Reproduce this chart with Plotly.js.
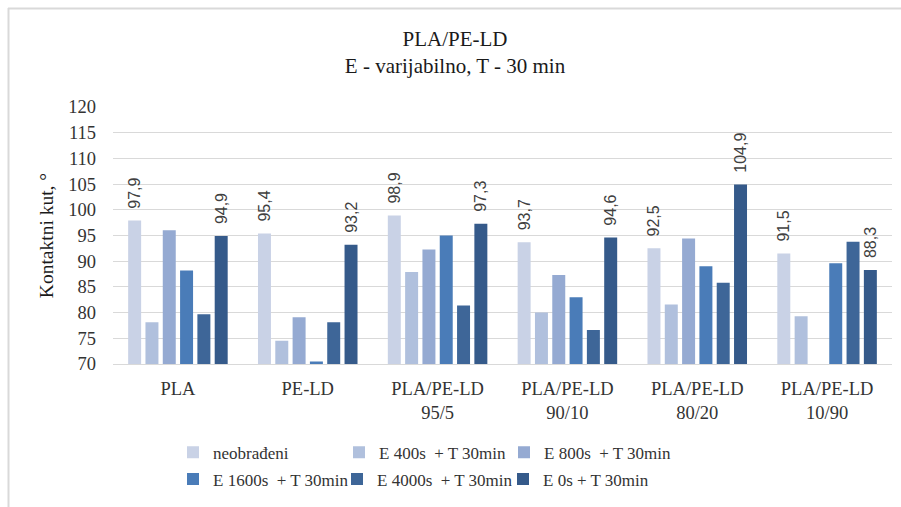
<!DOCTYPE html>
<html>
<head>
<meta charset="utf-8">
<script src="https://cdn.plot.ly/plotly-3.0.1.min.js"></script>
<style>html,body{margin:0;padding:0;background:#fff;}#chart{width:901px;height:507px;}</style>
</head>
<body>
<div id="chart"></div>
<script>
const categories = ["PLA", "PE-LD", "PLA/PE-LD<br>95/5", "PLA/PE-LD<br>90/10", "PLA/PE-LD<br>80/20", "PLA/PE-LD<br>10/90"];
const seriesNames = ["neobrađeni", "E 400s\u00a0 + T 30min", "E 800s\u00a0 + T 30min", "E 1600s\u00a0 + T 30min", "E 4000s\u00a0 + T 30min", "E 0s + T 30min"];
const neobradeni = [97.9, 95.4, 98.9, 93.7, 92.5, 91.5];
const e400 = [78.1, 74.5, 87.9, 80.0, 81.6, 79.3];
const e800 = [96.0, 79.1, 92.3, 87.3, 94.4, null];
const e1600 = [88.2, 70.5, 95.0, 83.0, 89.0, 89.6];
const e4000 = [79.7, 78.1, 81.4, 76.6, 85.8, 93.8];
const e0 = [94.9, 93.2, 97.3, 94.6, 104.9, 88.3];
const yTicks = [70, 75, 80, 85, 90, 95, 100, 105, 110, 115, 120];

const allSeries = [neobradeni, e400, e800, e1600, e4000, e0];
const colors = ["#c9d2e6", "#b0c0dd", "#95aad2", "#4a7cb8", "#3e6698", "#355a8a"];
const labelled = [true, false, false, false, false, true];
const legendIds = ["legend", "legend2", "legend3", "legend4", "legend5", "legend6"];

const traces = allSeries.map((vals, i) => {
  const t = {
    type: "bar",
    name: seriesNames[i],
    x: categories,
    y: vals,
    marker: {color: colors[i]},
    legend: legendIds[i],
    cliponaxis: false,
    hoverinfo: "skip"
  };
  if (labelled[i]) {
    t.texttemplate = "\u00a0\u00a0%{y:.1f}";
    t.textposition = "outside";
    t.textangle = -90;
    t.constraintext = "none";
    t.textfont = {family: "Liberation Sans, Arial, sans-serif", size: 16, color: "#404040"};
  }
  return t;
});

const serif = "Liberation Serif";
// legend placement (text start x, row centre y) in pixels of the 901x507 figure
const legendTextX = [213, 379, 544, 213, 377, 543];
const legendRowY = [452.7, 452.7, 452.7, 479.5, 479.5, 479.5];

const layout = {
  width: 901, height: 507,
  margin: {l: 113, r: 9, t: 107, b: 143},
  paper_bgcolor: "#ffffff",
  plot_bgcolor: "#ffffff",
  separators: ",.",
  barmode: "group",
  bargap: 0.2,
  bargroupgap: 0.25,
  title: {
    text: "PLA/PE-LD<br>E - varijabilno, T - 30 min",
    font: {family: serif, size: 21, color: "#1a1a1a"},
    x: 0.505, xanchor: "center",
    y: 1 - 46/507, yanchor: "top"
  },
  xaxis: {
    type: "category",
    showgrid: false,
    showline: true, linecolor: "#d9d9d9", linewidth: 1,
    ticks: "",
    ticklabelstandoff: 8,
    tickfont: {family: serif, size: 18.5, color: "#333333"},
    fixedrange: true
  },
  yaxis: {
    range: [70, 120],
    tickvals: yTicks,
    ticktext: yTicks.map(String),
    showgrid: true, gridcolor: "#d9d9d9", gridwidth: 1,
    zeroline: false,
    showline: false,
    ticks: "",
    ticklabelstandoff: 16,
    tickfont: {family: serif, size: 18.5, color: "#333333"},
    title: {text: "Kontaktni kut, °", font: {family: serif, size: 19.5, color: "#1a1a1a"}, standoff: 9},
    automargin: false,
    fixedrange: true
  },
  shapes: [
    {type: "line", xref: "paper", yref: "paper",
     x0: (8 - 113)/779, x1: (901 - 113)/779, y0: (364 - 8.5)/257, y1: (364 - 8.5)/257,
     line: {color: "#d9d9d9", width: 2}},
    {type: "line", xref: "paper", yref: "paper",
     x0: (8.5 - 113)/779, x1: (8.5 - 113)/779, y0: (364 - 8)/257, y1: (364 - 507)/257,
     line: {color: "#d9d9d9", width: 2}}
  ],
  showlegend: true
};

legendIds.forEach((id, i) => {
  layout[id] = {
    orientation: "h",
    xref: "container", yref: "container",
    xanchor: "left", yanchor: "middle",
    x: (legendTextX[i] - 40) / 901,
    y: 1 - legendRowY[i] / 507,
    font: {family: serif, size: 17, color: "#333333"},
    itemwidth: 30,
    bgcolor: "rgba(0,0,0,0)"
  };
});

Plotly.newPlot("chart", traces, layout, {displayModeBar: false, staticPlot: true});
</script>
</body>
</html>
